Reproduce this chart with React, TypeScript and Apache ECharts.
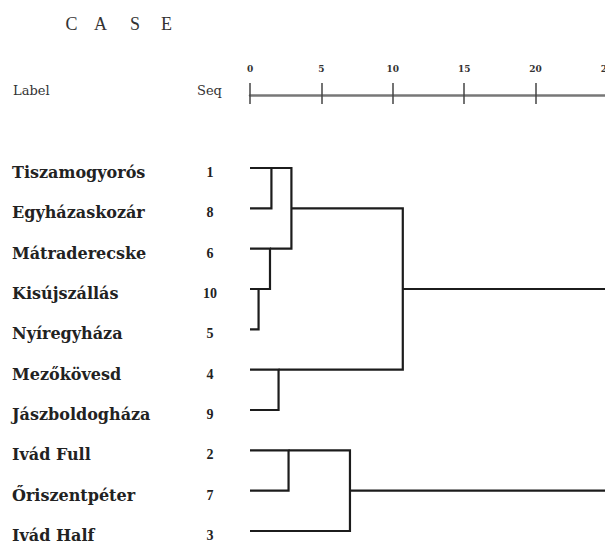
import React, { useEffect, useRef } from "react";
import * as echarts from "echarts";

// Case labels in display order (top to bottom)
const rowLabels = [
  "Tiszamogyorós",
  "Egyházaskozár",
  "Mátraderecske",
  "Kisújszállás",
  "Nyíregyháza",
  "Mezőkövesd",
  "Jászboldogháza",
  "Ivád Full",
  "Őriszentpéter",
  "Ivád Half",
];
const seqLabels = ["1", "8", "6", "10", "5", "4", "9", "2", "7", "3"];

// Agglomeration schedule: node ids 0-9 are rows, merge k creates node 10+k
const mergeLeft = [3, 2, 0, 5, 7, 12, 14, 15, 17];
const mergeRight = [4, 10, 1, 6, 8, 11, 9, 13, 16];
const mergeHeight = [0.6, 1.4, 1.5, 2.0, 2.7, 2.9, 7.0, 10.7, 25];

const headerLetters = ["C", "A", "S", "E"];

function buildSegments() {
  const exitRow: number[] = rowLabels.map((_, i) => i);
  const startX: number[] = rowLabels.map(() => 0);
  const items: number[][] = [];
  mergeHeight.forEach((h, k) => {
    const a = mergeLeft[k];
    const b = mergeRight[k];
    items.push([startX[a], exitRow[a], h, exitRow[b], startX[b]]);
    exitRow.push(Math.floor((exitRow[a] + exitRow[b]) / 2));
    startX.push(h);
  });
  return items;
}

export default function App() {
  const ref = useRef<HTMLDivElement>(null);
  useEffect(() => {
    if (!ref.current) return;
    const chart = echarts.init(ref.current, null, { renderer: "svg" });
    const segments = buildSegments();
    const letterX = [71.5, 100.5, 135, 166.5];
    const option: any = {
      animation: false,
      backgroundColor: "#ffffff",
      grid: {
        left: 250,
        width: 357,
        top: 168,
        bottom: 11,
        containLabel: false,
        outerBoundsMode: "none",
      },
      graphic: [
        ...headerLetters.map((ch, i) => ({
          type: "text",
          x: letterX[i],
          y: 24,
          style: {
            text: ch,
            fill: "#333",
            font: "18px 'Liberation Serif'",
            align: "center",
            verticalAlign: "middle",
          },
        })),
        {
          type: "text",
          x: 13,
          y: 90,
          style: {
            text: "Label",
            fill: "#333",
            font: "13px 'DejaVu Serif'",
            align: "left",
            verticalAlign: "middle",
          },
        },
        {
          type: "text",
          x: 197,
          y: 90,
          style: {
            text: "Seq",
            fill: "#333",
            font: "13px 'DejaVu Serif'",
            align: "left",
            verticalAlign: "middle",
          },
        },
      ],
      xAxis: [
        {
          type: "value",
          position: "top",
          offset: 73,
          min: 0,
          max: 25,
          interval: 5,
          axisLine: { show: true, lineStyle: { color: "#777", width: 2.5 } },
          axisTick: { show: true, length: 12, lineStyle: { color: "#444", width: 1.5 } },
          axisLabel: {
            show: true,
            margin: 22,
            showMaxLabel: true,
            showMinLabel: true,
            color: "#333",
            fontFamily: "DejaVu Serif",
            fontWeight: "bold",
            fontSize: 9,
          },
          splitLine: { show: false },
        },
        {
          type: "value",
          position: "top",
          offset: 73,
          min: 0,
          max: 25,
          interval: 5,
          axisLine: { show: false },
          axisTick: { show: true, inside: true, length: 9, lineStyle: { color: "#444", width: 1.5 } },
          axisLabel: { show: false },
          splitLine: { show: false },
        },
      ],
      yAxis: [
        {
          type: "category",
          data: rowLabels,
          inverse: true,
          boundaryGap: false,
          axisLine: { show: false },
          axisTick: { show: false },
          splitLine: { show: false },
          axisLabel: {
            interval: 0,
            margin: 238,
            align: "left",
            verticalAlign: "top",
            lineHeight: 9,
            color: "#222",
            fontFamily: "DejaVu Serif",
            fontWeight: "bold",
            fontSize: 16,
          },
        },
        {
          type: "category",
          data: seqLabels,
          inverse: true,
          boundaryGap: false,
          position: "left",
          axisLine: { show: false },
          axisTick: { show: false },
          splitLine: { show: false },
          axisLabel: {
            interval: 0,
            margin: 40,
            align: "center",
            verticalAlign: "top",
            lineHeight: 9,
            color: "#222",
            fontFamily: "Liberation Serif",
            fontWeight: "bold",
            fontSize: 14,
          },
        },
      ],
      series: [
        {
          type: "custom",
          xAxisIndex: 0,
          yAxisIndex: 0,
          encode: { x: [0, 2, 4], y: [1, 3] },
          data: segments,
          renderItem: (params: any, api: any) => {
            const x0 = api.value(0);
            const ra = api.value(1);
            const h = api.value(2);
            const rb = api.value(3);
            const x1 = api.value(4);
            const pts = [
              api.coord([x0, ra]),
              api.coord([h, ra]),
              api.coord([h, rb]),
              api.coord([x1, rb]),
            ];
            return {
              type: "polyline",
              shape: { points: pts },
              style: { stroke: "#1c1c1c", lineWidth: 2.2, fill: null },
            };
          },
        },
      ],
    };
    chart.setOption(option);
    return () => chart.dispose();
  }, []);
  return (
    <div
      ref={ref}
      style={{ position: "fixed", left: 0, top: 0, width: 605, height: 542 }}
    />
  );
}
